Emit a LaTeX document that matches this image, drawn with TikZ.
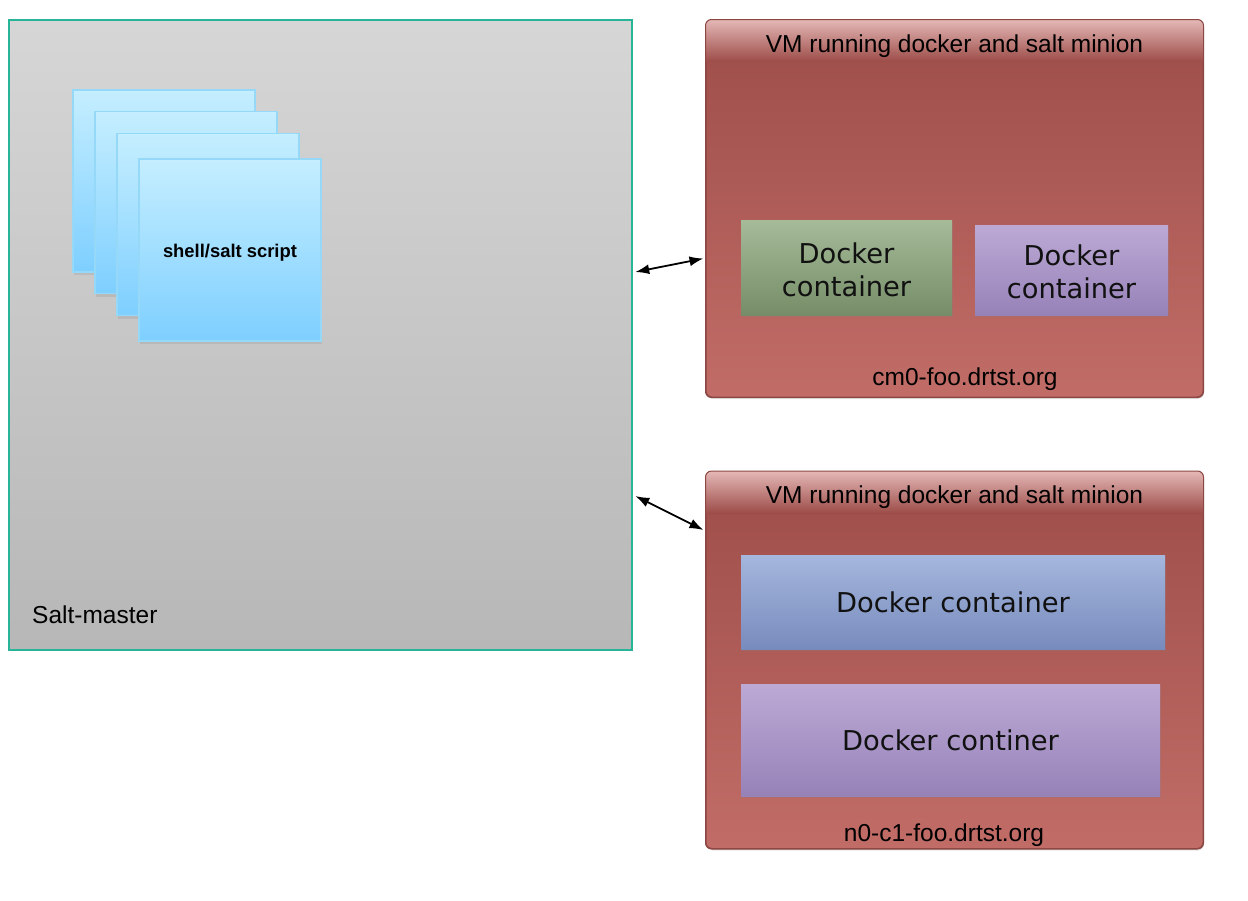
\documentclass[tikz,border=0pt]{standalone}
\usepackage{fontspec}
\setmainfont{Liberation Sans}
\newfontfamily\dockerfont{DejaVu Sans}
\usetikzlibrary{shapes,positioning,shadows,arrows.meta}
\definecolor{teal}{HTML}{27B497}
\definecolor{vmline}{HTML}{8C4743}
\definecolor{vmtop}{HTML}{9D4D49}
\definecolor{vmhead}{HTML}{E4B8B6}
\tikzstyle{master}=[rectangle, draw=teal, line width=2.5pt, top color={rgb,255:red,214;green,214;blue,214}, bottom color={rgb,255:red,183;green,183;blue,183}, minimum width=623pt, minimum height=630pt, inner sep=0pt]
\tikzstyle{card}=[rectangle, draw={rgb,255:red,150;green,216;blue,248}, line width=1.2pt, top color={rgb,255:red,197;green,238;blue,255}, bottom color={rgb,255:red,126;green,207;blue,255}, minimum width=182pt, minimum height=182pt, inner sep=0pt, drop shadow={opacity=0.2, shadow xshift=1pt, shadow yshift=-3pt}]
\tikzstyle{vm}=[rectangle, rounded corners=6pt, draw=vmline, line width=1pt, top color=vmtop, bottom color={rgb,255:red,193;green,108;blue,103}, minimum width=497pt, minimum height=377pt, inner sep=0pt, drop shadow={opacity=0.2, shadow xshift=1pt, shadow yshift=-2pt}]
\tikzstyle{vmtext}=[font=\fontsize{24.5}{28}\selectfont, inner sep=0pt]
\tikzstyle{docker}=[rectangle, inner sep=0pt, align=center, font=\dockerfont\fontsize{27.3}{33}\selectfont, text={rgb,255:red,17;green,17;blue,17}, drop shadow={opacity=0.2, shadow xshift=1pt, shadow yshift=-2pt}]
\tikzstyle{green}=[docker, top color={rgb,255:red,165;green,187;blue,153}, bottom color={rgb,255:red,118;green,141;blue,104}]
\tikzstyle{purple}=[docker, top color={rgb,255:red,188;green,170;blue,213}, bottom color={rgb,255:red,151;green,130;blue,184}]
\tikzstyle{blue}=[docker, top color={rgb,255:red,165;green,183;blue,221}, bottom color={rgb,255:red,120;green,139;blue,189}]
\tikzstyle{dtext}=[inner sep=0pt, align=center, font=\dockerfont\fontsize{27.3}{33}\selectfont, text={rgb,255:red,17;green,17;blue,17}]
\tikzstyle{arr}=[{Latex[length=14pt,width=10pt]}-{Latex[length=14pt,width=10pt]}, line width=1.8pt]

\begin{document}
\begin{tikzpicture}[x=1pt,y=-1pt]
\useasboundingbox (0,0) rectangle (1248,900);

\node[master] (m) at (320.5,335) {};
\node[anchor=west, font=\fontsize{24.5}{28}\selectfont, inner sep=0pt] (ml) at (32,615) {Salt-master};

\foreach \n/\x/\y in {c1/164/181, c2/186/202.5, c3/208/224.5, c4/230/250}
  \node[card] (\n) at (\x,\y) {};
\node[font=\fontsize{18.4}{22}\selectfont\bfseries, inner sep=0pt] (st) at ([yshift=-3pt]c4.center) {shell/salt script};

\node[vm] (vm1) at (954.5,208.5) {};
\node[vm] (vm2) at (954.5,660) {};
% glossy band on top of each VM
\foreach \v in {vm1,vm2} {
  \begin{scope}
    \clip[rounded corners=6pt] (\v.south west) rectangle (\v.north east);
    \shade[top color=vmhead, bottom color=vmtop] (\v.north west) rectangle ([yshift=-42pt]\v.north east);
  \end{scope}
  \draw[vmline, line width=1pt, rounded corners=6pt] (\v.south west) rectangle (\v.north east);
}

\node[vmtext] (t1) at ([yshift=-27pt]vm1.north) {VM running docker and salt minion};
\node[green, minimum width=211pt, minimum height=95pt] (d1) at (846.5,267.5) {};
\node[dtext] at ([yshift=-2pt]d1.center) {Docker\\container};
\node[purple, minimum width=193pt, minimum height=90pt] (d2) at (1071.5,270) {};
\node[dtext] at ([yshift=-2pt]d2.center) {Docker\\container};
\node[vmtext] (h1) at (965,379) {cm0-foo.drtst.org};

\node[vmtext] (t2) at ([yshift=-26pt]vm2.north) {VM running docker and salt minion};
\node[blue, minimum width=424pt, minimum height=94pt] (d3) at (953,602) {Docker container};
\node[purple, minimum width=419pt, minimum height=112pt] (d4) at (950.5,740) {Docker continer};
\node[vmtext] (h2) at (944,835) {n0-c1-foo.drtst.org};

\draw[arr] ([xshift=2pt,yshift=63pt]m.east) -- ([xshift=-2pt,yshift=-50pt]vm1.west);
\draw[arr] ([xshift=2pt,yshift=-161pt]m.east) -- ([xshift=-2pt,yshift=130pt]vm2.west);

\end{tikzpicture}
\end{document}
